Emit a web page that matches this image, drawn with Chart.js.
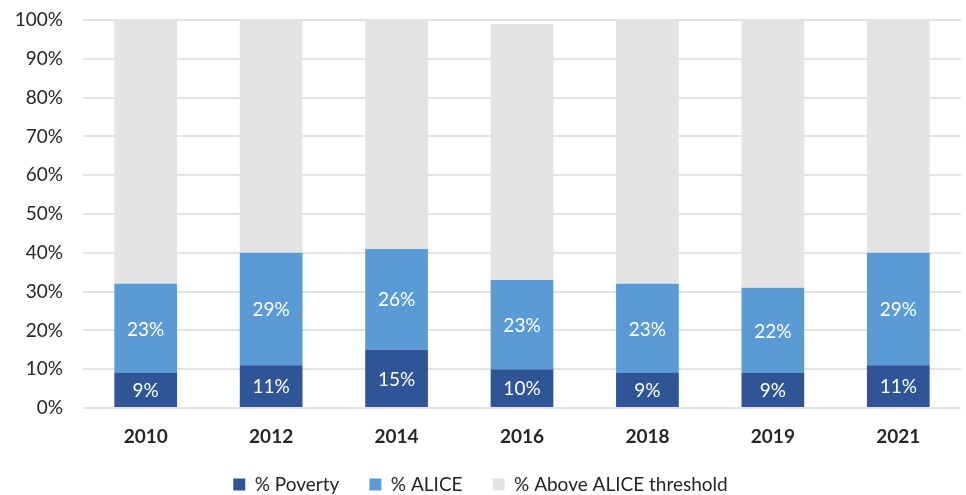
<!DOCTYPE html>
<html>
<head>
<meta charset="utf-8">
<script src="https://cdn.jsdelivr.net/npm/chart.js@4.4.1/dist/chart.umd.min.js"></script>
<style>
  html, body { margin: 0; padding: 0; background: #fff; }
  #wrap { width: 966px; height: 495px; }
</style>
</head>
<body>
<div id="wrap"><canvas id="myChart" width="966" height="495"></canvas></div>
<script>
  const years = ['2010', '2012', '2014', '2016', '2018', '2019', '2021']
  const poverty = [9, 11, 15, 10, 9, 9, 11]
  const alice = [23, 29, 26, 23, 23, 22, 29]
  const above = [68, 60, 59, 66, 68, 69, 60]
  const yTicks = [0, 10, 20, 30, 40, 50, 60, 70, 80, 90, 100]

  const FONT = 'Lato, "Open Sans", sans-serif'

  // white % labels inside the two lower segments
  const segLabels = {
    id: 'segLabels',
    afterDatasetsDraw(chart) {
      const c = chart.ctx
      c.save()
      c.font = '19px ' + FONT
      c.fillStyle = '#ffffff'
      c.textAlign = 'center'
      c.textBaseline = 'middle'
      ;[0, 1].forEach(i => {
        const meta = chart.getDatasetMeta(i)
        meta.data.forEach((bar, j) => {
          const v = chart.data.datasets[i].data[j]
          c.fillText(v + '%', bar.x, (bar.y + bar.base) / 2 + 1)
        })
      })
      c.restore()
    }
  }

  const ctx = document.getElementById('myChart')
  const myChart = new Chart(ctx, {
    type: 'bar',
    data: {
      labels: years,
      datasets: [
        { label: '% Poverty', data: poverty, backgroundColor: '#2f5597' },
        { label: '% ALICE', data: alice, backgroundColor: '#5b9bd5' },
        { label: '% Above ALICE threshold', data: above, backgroundColor: '#e4e4e4' }
      ]
    },
    options: {
      responsive: false,
      animation: false,
      layout: { padding: { top: 20, right: 5, left: 0, bottom: -9 } },
      datasets: { bar: { categoryPercentage: 1, barPercentage: 0.5 } },
      scales: {
        x: {
          stacked: true,
          afterFit(s) { s.height = 37 },
          grid: { display: false },
          border: { display: false },
          ticks: { color: '#262626', font: { family: FONT, size: 19, weight: 'bold' }, padding: 9 }
        },
        y: {
          stacked: true,
          min: 0,
          max: 100,
          afterFit(s) { s.width = 83; s.paddingTop = 0; s.paddingBottom = 0 },
          afterBuildTicks(s) { s.ticks = yTicks.map(v => ({ value: v })) },
          grid: { color: '#e3e3e3', lineWidth: 2, drawTicks: false },
          border: { display: false },
          ticks: {
            color: '#262626',
            font: { family: FONT, size: 19 },
            padding: 20,
            callback: v => v + '%'
          }
        }
      },
      plugins: {
        legend: {
          position: 'bottom',
          labels: {
            color: '#262626',
            font: { family: FONT, size: 19 },
            boxWidth: 12,
            boxHeight: 12,
            padding: 30
          }
        },
        tooltip: { enabled: false }
      }
    },
    plugins: [segLabels]
  })
</script>
</body>
</html>
